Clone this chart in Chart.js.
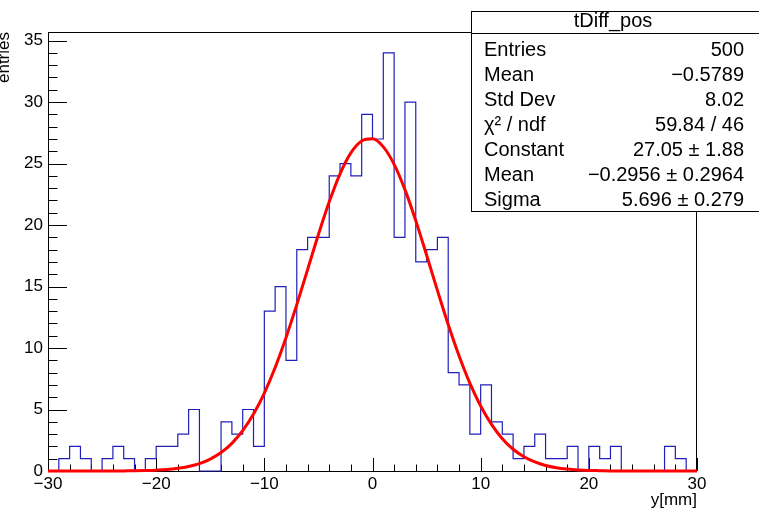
<!DOCTYPE html>
<html>
<head>
<meta charset="utf-8">
<script src="https://cdn.jsdelivr.net/npm/chart.js@4/dist/chart.umd.min.js"></script>
<style>
  html, body { margin: 0; padding: 0; background: #fff; }
  canvas { display: block; }
</style>
</head>
<body>
<canvas id="tDiffChart" width="759" height="511"></canvas>
<script>
// histogram tDiff_pos, 60 bins of 1 mm from -30 to 30
const binLowEdges = [
  -30, -29, -28, -27, -26, -25, -24, -23, -22, -21,
  -20, -19, -18, -17, -16, -15, -14, -13, -12, -11,
  -10, -9, -8, -7, -6, -5, -4, -3, -2, -1,
  0, 1, 2, 3, 4, 5, 6, 7, 8, 9,
  10, 11, 12, 13, 14, 15, 16, 17, 18, 19,
  20, 21, 22, 23, 24, 25, 26, 27, 28, 29
];
const binUpEdge = 30;
const binCounts = [
  0, 1, 2, 1, 0, 1, 2, 1, 0, 1,
  2, 2, 3, 5, 0, 0, 4, 3, 5, 2,
  13, 15, 9, 18, 19, 19, 24, 25, 24, 29,
  27, 34, 19, 30, 17, 18, 19, 8, 7, 3,
  7, 4, 3, 1, 2, 3, 1, 1, 2, 0,
  2, 1, 2, 0, 0, 0, 0, 2, 1, 0
];

// gaus fit curve
const fitX = [
  -30, -29, -28, -27, -26, -25, -24, -23, -22, -21,
  -20, -19, -18, -17, -16, -15, -14, -13, -12, -11,
  -10, -9, -8, -7, -6, -5, -4, -3, -2, -1,
  0, 1, 2, 3, 4, 5, 6, 7, 8, 9,
  10, 11, 12, 13, 14, 15, 16, 17, 18, 19,
  20, 21, 22, 23, 24, 25, 26, 27, 28, 29, 30
];
const fitY = [
  0, 0, 0, 0, 0, 0, 0, 0.01, 0.02, 0.04,
  0.07, 0.12, 0.22, 0.37, 0.60, 0.97, 1.50, 2.25, 3.28, 4.63,
  6.34, 8.42, 10.84, 13.53, 16.38, 19.23, 21.89, 24.17, 25.87, 26.84,
  27.01, 26.36, 24.94, 22.88, 20.36, 17.56, 14.69, 11.91, 9.37, 7.14,
  5.28, 3.79, 2.63, 1.77, 1.16, 0.74, 0.45, 0.27, 0.16, 0.09,
  0.05, 0.03, 0.01, 0, 0, 0, 0, 0, 0, 0, 0
];

const xTicks = [-30, -20, -10, 0, 10, 20, 30];
const yTicks = [0, 5, 10, 15, 20, 25, 30, 35];
const xMinorStep = 2;
const yMinorStep = 1;

const statsTitle = "tDiff_pos";
const statsLabels = ["Entries", "Mean", "Std Dev", "\u03c7\u00b2 / ndf", "Constant", "Mean", "Sigma"];
const statsValues = ["500", "\u22120.5789", "8.02", "59.84 / 46", "27.05 \u00b1 1.88", "\u22120.2956 \u00b1 0.2964", "5.696 \u00b1 0.279"];

const FONT = "'Liberation Sans', Arial, Helvetica, sans-serif";

const histPoints = binLowEdges.map((x, i) => ({ x, y: binCounts[i] }));
histPoints.push({ x: binUpEdge, y: binCounts[binCounts.length - 1] });
const fitPoints = fitX.map((x, i) => ({ x, y: fitY[i] }));

// ROOT style frame + inward ticks, and the stats box
const rootFrame = {
  id: "rootFrame",
  beforeDatasetsDraw(chart) {
    const { ctx, chartArea: a, scales: { x, y } } = chart;
    ctx.save();
    ctx.strokeStyle = "#000";
    ctx.lineWidth = 1;
    ctx.strokeRect(a.left + 0.5, a.top + 0.5, a.right - a.left - 1, a.bottom - a.top);
    ctx.beginPath();
    for (let v = x.min; v <= x.max + 1e-9; v += xMinorStep) {
      const px = Math.round(x.getPixelForValue(v)) + 0.5;
      const len = xTicks.includes(v) ? 13 : 6.5;
      ctx.moveTo(px, a.bottom);
      ctx.lineTo(px, a.bottom - len);
    }
    for (let v = 0; v <= y.max + 1e-9; v += yMinorStep) {
      const py = Math.round(y.getPixelForValue(v)) + 0.5;
      const len = yTicks.includes(v) ? 19 : 9.5;
      ctx.moveTo(a.left, py);
      ctx.lineTo(a.left + len, py);
    }
    ctx.stroke();
    ctx.restore();
  },
  afterDraw(chart) {
    const { ctx } = chart;
    const bx = 471, by = 11, bw = 300, bh = 200, rowH = 25;
    ctx.save();
    ctx.fillStyle = "#fff";
    ctx.fillRect(bx, by, bw, bh);
    ctx.strokeStyle = "#000";
    ctx.lineWidth = 1;
    ctx.strokeRect(bx + 0.5, by + 0.5, bw, bh);
    ctx.beginPath();
    ctx.moveTo(bx, by + 22.5);
    ctx.lineTo(bx + bw, by + 22.5);
    ctx.stroke();
    ctx.fillStyle = "#000";
    ctx.font = "20px " + FONT;
    ctx.textBaseline = "alphabetic";
    ctx.textAlign = "center";
    ctx.fillText(statsTitle, 613, 27);
    statsLabels.forEach((lab, i) => {
      const base = 56 + i * rowH;
      ctx.textAlign = "left";
      ctx.fillText(lab, 484, base);
      ctx.textAlign = "right";
      ctx.fillText(statsValues[i], 744, base);
    });
    ctx.restore();
  }
};

new Chart(document.getElementById("tDiffChart"), {
  type: "line",
  data: {
    datasets: [
      {
        label: "gaus",
        data: fitPoints,
        borderColor: "#ff0000",
        borderWidth: 3,
        pointRadius: 0,
        cubicInterpolationMode: "monotone",
        clip: 6,
        order: 0,
      },
      {
        label: "tDiff_pos",
        data: histPoints,
        borderColor: "#2020b8",
        borderWidth: 1.2,
        pointRadius: 0,
        stepped: "before",
        clip: 4,
        order: 1,
      },
    ],
  },
  options: {
    responsive: false,
    devicePixelRatio: 1,
    animation: false,
    layout: { padding: { left: 0, right: 62, top: 32, bottom: 0 } },
    plugins: { legend: { display: false }, tooltip: { enabled: false } },
    scales: {
      x: {
        type: "linear",
        min: -30,
        max: 30,
        afterBuildTicks: s => { s.ticks = xTicks.map(value => ({ value })); },
        afterFit: s => { s.height = 40; },
        grid: { display: false, drawTicks: false },
        border: { display: false },
        ticks: {
          color: "#000",
          font: { family: FONT, size: 17 },
          padding: 3,
          maxRotation: 0,
          callback: v => (v < 0 ? "\u2212" + Math.abs(v) : String(v)),
        },
        title: {
          display: true,
          text: "y[mm]",
          align: "end",
          color: "#000",
          font: { family: FONT, size: 17 },
          padding: { top: 0, bottom: 0 },
        },
      },
      y: {
        type: "linear",
        min: 0,
        max: 35.7,
        afterBuildTicks: s => { s.ticks = yTicks.map(value => ({ value })); },
        afterFit: s => { s.width = 48; },
        grid: { display: false, drawTicks: false },
        border: { display: false },
        ticks: {
          color: "#000",
          font: { family: FONT, size: 17 },
          padding: 5,
        },
        title: {
          display: true,
          text: "entries",
          align: "end",
          color: "#000",
          font: { family: FONT, size: 17 },
          padding: { top: -6, bottom: 0 },
        },
      },
    },
  },
  plugins: [rootFrame],
});
</script>
</body>
</html>
